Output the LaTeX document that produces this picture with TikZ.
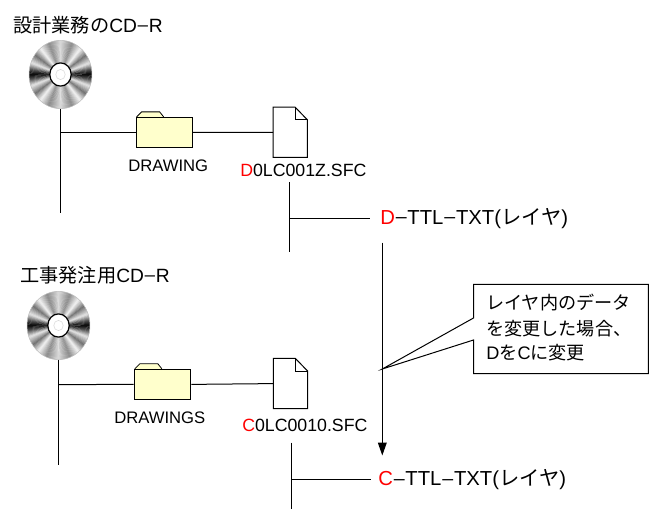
\documentclass[tikz,border=0pt]{standalone}
\usepackage{fontspec}
\setmainfont{Liberation Sans}
\newfontfamily\jp{Noto Sans CJK JP}
\usetikzlibrary{shapes.geometric,arrows.meta}
\definecolor{foldery}{HTML}{FFFFCC}
\tikzset{
  x=0.75pt,y=-0.75pt,
  link/.style={line width=0.75pt,black},
  cdnode/.style={ellipse,inner sep=0pt,minimum width=47.25pt,minimum height=51pt},
  foldernode/.style={draw=black,fill=foldery,line width=0.75pt,inner sep=0pt,minimum width=42.4pt,minimum height=22.6pt},
  docnode/.style={inner sep=0pt,minimum width=25.4pt,minimum height=37.3pt},
  lab/.style={anchor=west,inner sep=0pt,font=\fontsize{12.5pt}{14pt}\selectfont},
  fname/.style={anchor=west,inner sep=0pt,font=\fontsize{13.3pt}{15pt}\selectfont},
  ttl/.style={anchor=west,inner sep=0pt,font=\fontsize{14.4pt}{17pt}\selectfont},
  layer/.style={anchor=west,inner sep=0pt,font=\fontsize{15.2pt}{17pt}\selectfont},
  big/.style={anchor=west,inner sep=0pt,font=\fontsize{13.6pt}{16pt}\selectfont},
  callout/.style={draw=black,line width=0.75pt,fill=white},
}
\newcommand{\hy}{\makebox[0.62em][c]{\raisebox{0.07em}{\scalebox{2.2}[0.8]{-}}}}
\newcommand{\red}[1]{\textcolor{red}{#1}}
% disc artwork centred on a node
\newcommand{\cdart}[1]{%
  \begin{scope}[shift={(#1.center)},x=23.6pt,y=25.6pt]
    \foreach \a in {0,2,...,358}{
      \pgfmathsetmacro{\t}{asin(abs(sin(\a+1)))}
      \pgfmathsetmacro{\g}{\t<8 ? 0.02+0.28*\t/8 : (\t<20 ? 0.3+0.6*(\t-8)/12 : (\t<35 ? 0.9-0.45*(\t-20)/15 : (\t<50 ? 0.45+0.5*(\t-35)/15 : (\t<68 ? 0.95-0.4*(\t-50)/18 : 0.55+0.3*(\t-68)/22))))}
      \definecolor{cdg}{gray}{\g}
      \fill[cdg] (0,0) -- (\a:1) -- (\a+2.6:1) -- cycle;
    }
    \draw[black!25,line width=0.4pt] (0,0) circle (1);
    \fill[white] (0,0) circle (0.34);
    \draw[black,line width=0.9pt] (0,0) circle (0.34);
    \draw[black!15,line width=0.4pt] (0,0) circle (0.15);
  \end{scope}}
\newcommand{\foldertab}[1]{%
  \draw[black,fill=foldery,line width=0.6pt] ([xshift=0.8pt]#1.north west) -- ++(3.8pt,3.8pt) -- ++(13.5pt,0pt) -- ++(3pt,-3.8pt);}
\newcommand{\docart}[1]{%
  \draw[black,fill=white,line width=0.75pt] (#1.north west) -- ([xshift=16.6pt]#1.north west) -- ([yshift=-9.5pt]#1.north east) -- (#1.south east) -- (#1.south west) -- cycle;
  \draw[black,line width=0.75pt] ([xshift=16.6pt]#1.north west) -- ++(0pt,-9.5pt) -- ([yshift=-9.5pt]#1.north east);}
\begin{document}
\begin{tikzpicture}
\useasboundingbox (0,0) rectangle (649,509);

% ---- top
\node[ttl] (t1) at (13,25) {{\jp 設計業務の}CD\hy R};
\node[cdnode] (cd1) at (60.5,74.5) {};
\cdart{cd1}
\coordinate (s1) at (60.5,213);
\coordinate (j1) at (60.5,132.5);
\node[foldernode] (f1) at (164.3,132.5) {};
\foldertab{f1}
\node[docnode] (d1) at (290.2,132.3) {};
\docart{d1}
\draw[link] (cd1.south) -- (s1);
\draw[link] (j1) -- (f1.west);
\draw[link] (f1.east) -- (d1.west);
\node[lab] (l1) at (128,166) {DRAWING};
\node[fname] (n1) at (240,170) {\red{D}0LC001Z.SFC};
\coordinate (a1) at (289.7,182.3);
\coordinate (b1) at (289.7,252.3);
\coordinate (k1) at (289.7,218.3);
\node[layer] (y1) at (380,218.3) {\red{D}\hy TTL\hy TXT({\jp レイヤ})};
\coordinate (y1w) at (370,218.3);
\draw[link] (a1) -- (b1);
\draw[link] (k1) -- (y1w);

% ---- bottom
\node[ttl] (t2) at (20,275) {{\jp 工事発注用}CD\hy R};
\node[cdnode] (cd2) at (58.5,325.5) {};
\cdart{cd2}
\coordinate (s2) at (58.5,465);
\coordinate (j2) at (58.5,384.6);
\node[foldernode] (f2) at (162.5,384.4) {};
\foldertab{f2}
\node[docnode] (d2) at (290.5,383.6) {};
\docart{d2}
\draw[link] (cd2.south) -- (s2);
\draw[link] (j2) -- (f2.west);
\draw[link] (f2.east) -- (d2.west);
\node[lab] (l2) at (114,418) {DRAWINGS};
\node[fname] (n2) at (242,425) {\red{C}0LC0010.SFC};
\coordinate (a2) at (291,442.7);
\coordinate (b2) at (291,509);
\coordinate (k2) at (291,479);
\node[layer] (y2) at (378,480) {\red{C}\hy TTL\hy TXT({\jp レイヤ})};
\coordinate (y2w) at (371,479);
\draw[link] (a2) -- (b2);
\draw[link] (k2) -- (y2w);

% ---- arrow
\coordinate (ar1) at (382.3,242.7);
\coordinate (ar2) at (382.3,455.5);
\draw[link,-{Triangle[length=9.7pt,width=6.6pt]}] (ar1) -- (ar2);

% ---- callout
\coordinate (tip) at (382.3,369);
\coordinate (pa) at (473.5,318);
\coordinate (pb) at (473.5,340);
\draw[callout] (473.5,284.3) -- (648.4,284.3) -- (648.4,373.7) -- (473.5,373.7) -- (pb) -- (tip) -- (pa) -- cycle;
\node[big] (c1) at (486,303) {\jp レイヤ内のデータ};
\node[big] (c2) at (486,329) {\jp を変更した場合、};
\node[big] (c3) at (486,353) {D{\jp を}C{\jp に変更}};
\end{tikzpicture}
\end{document}
